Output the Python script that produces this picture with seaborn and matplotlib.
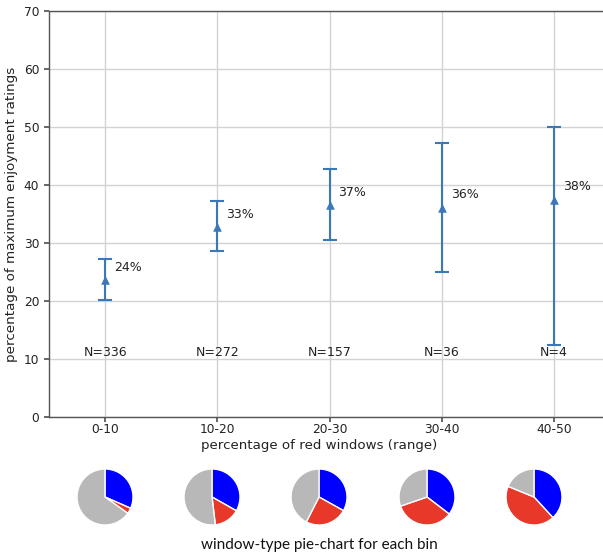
import numpy as np
import pandas as pd
import matplotlib
matplotlib.use("Agg")
import matplotlib.pyplot as plt
import seaborn as sns

# data
bins = ["0-10", "10-20", "20-30", "30-40", "40-50"]
mean_pct = [23.6, 32.7, 36.5, 36.1, 37.5]
err_low = [20.2, 28.7, 30.6, 25.0, 12.5]
err_high = [27.3, 37.2, 42.7, 47.2, 50.0]
pct_labels = ["24%", "33%", "37%", "36%", "38%"]
counts = [336, 272, 157, 36, 4]

# window-type share per bin (blue, red, grey)
share_blue = [31.6, 33.2, 33.1, 35.4, 38.2]
share_red = [3.3, 14.9, 24.4, 34.3, 43.0]
share_grey = [65.1, 51.9, 42.5, 30.3, 18.8]

W, H = 603, 557
LINE = "#3a78b8"
TXT = "#222222"

sns.set_theme(style="ticks", rc={
    "axes.edgecolor": "#555555",
    "axes.linewidth": 1.0,
    "grid.color": "#d3d3d3",
    "grid.linewidth": 1.0,
    "xtick.color": "#555555",
    "ytick.color": "#555555",
    "xtick.major.size": 3.5,
    "ytick.major.size": 3.5,
    "text.color": TXT,
    "axes.labelcolor": TXT,
})
plt.rcParams["font.family"] = ["DejaVu Sans"]

df = pd.DataFrame({"bin": bins, "mean": mean_pct, "lo": err_low, "hi": err_high})
df["x"] = np.arange(len(df))

fig = plt.figure(figsize=(W / 100, H / 100), dpi=100)
# plot area runs off the right edge of the picture, as in the reference crop
ax = fig.add_axes([49 / W, (H - 417) / H, (W - 49) / W, 406 / H])

ax.errorbar(df["x"], df["mean"],
            yerr=[df["mean"] - df["lo"], df["hi"] - df["mean"]],
            fmt="none", ecolor=LINE, elinewidth=1.5, capsize=5, capthick=1.5, zorder=3)
sns.scatterplot(data=df, x="x", y="mean", marker="^", color=LINE, s=30,
                edgecolor=LINE, linewidth=0.5, ax=ax, zorder=4, legend=False)

for i, row in df.iterrows():
    ax.text(row["x"] + 0.08, row["mean"] + 2.2, pct_labels[i], fontsize=9,
            ha="left", va="center", color=TXT)
    ax.text(row["x"], 10.0, f"N={counts[i]}", fontsize=9, ha="center",
            va="bottom", color=TXT)

ax.set_xlim(-0.5, 4.5 - 7 / 112)
ax.set_ylim(0, 70)
ax.set_xticks(df["x"])
ax.set_xticklabels(bins)
ax.set_yticks(range(0, 71, 10))
ax.tick_params(labelsize=8.8, labelcolor=TXT)
ax.tick_params(axis="x", pad=1)
ax.grid(True)
ax.set_axisbelow(True)
ax.spines["top"].set_visible(True)
ax.spines["right"].set_visible(False)
ax.set_xlabel("percentage of red windows (range)", fontsize=9.6)
ax.set_ylabel("percentage of maximum enjoyment ratings", fontsize=9.7, labelpad=4)
ax.xaxis.set_label_coords((319 - 49) / (W - 49), -0.055)

# pie row under the axes
pie_cx = [105, 212, 319, 427, 534]
r = 28
for i, cx in enumerate(pie_cx):
    pax = fig.add_axes([(cx - r) / W, (H - 497 - r) / H, 2 * r / W, 2 * r / H])
    pax.pie([share_blue[i], share_red[i], share_grey[i]],
            colors=["#0000ff", "#e8382a", "#b8b8b8"],
            startangle=90, counterclock=False)
    pax.set_xlim(-1, 1)
    pax.set_ylim(-1, 1)
    pax.set_aspect("equal")
    pax.axis("off")

fig.text(319 / W, 1 - 545 / H, "window-type pie-chart for each bin",
         fontsize=11, family=["Lato", "DejaVu Sans"], ha="center", va="center",
         color="#111111")

fig.savefig("out.png", dpi=100)
